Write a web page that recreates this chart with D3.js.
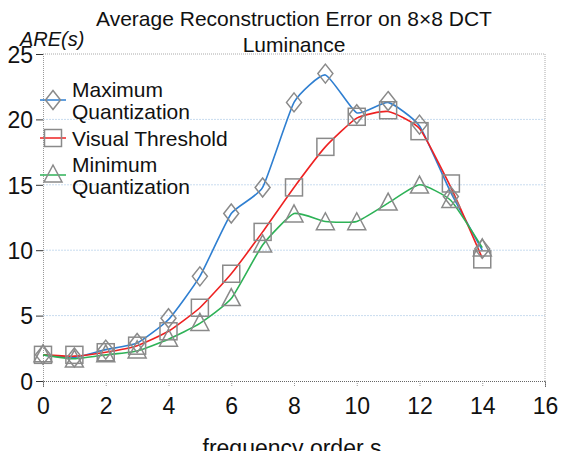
<!DOCTYPE html>
<html><head><meta charset="utf-8">
<script src="https://cdn.jsdelivr.net/npm/d3@7"></script>
<style>body{margin:0;background:#fff}svg{display:block}text{font-family:"Liberation Sans",Arial,sans-serif;fill:#111}</style>
</head><body>
<script>
const freq = [0,1,2,3,4,5,6,7,8,9,10,11,12,13,14];
const maxQ = [2.0,1.8,2.4,2.9,4.8,8.0,12.8,14.8,21.3,23.5,20.4,21.4,19.6,14.1,10.1];
const visT = [2.0,2.0,2.2,2.7,3.8,5.6,8.2,11.4,14.8,17.9,20.2,20.7,19.1,15.1,9.3];
const minQ = [2.0,1.6,2.0,2.3,3.2,4.4,6.3,10.4,12.7,12.1,12.1,13.6,14.9,13.8,10.1];
const lineMax = [2.0,1.8,2.4,2.9,4.7,8.0,12.8,14.8,21.3,23.4,20.5,21.3,19.5,14.4,10.0];
const lineVis = [2.0,1.9,2.2,2.7,3.8,5.6,8.2,11.4,14.8,17.9,20.1,20.6,19.3,14.8,9.4];
const lineMin = [2.0,1.7,2.0,2.3,3.2,4.4,6.3,10.4,12.8,12.2,12.2,13.6,15.0,13.8,10.2];
const xTicks = [0,2,4,6,8,10,12,14,16];
const yTicks = [0,5,10,15,20,25];
const seriesNames = ["Maximum|Quantization","Visual Threshold","Minimum|Quantization"];
const colors = ["#2f7fd1","#ee2222","#2eb257"];

const W=561,H=451;
const svg=d3.select("body").append("svg").attr("width",W).attr("height",H);
const x=d3.scaleLinear().domain([0,16]).range([43,545]);
const y=d3.scaleLinear().domain([0,25]).range([381,54]);

// grid
svg.append("g").selectAll("line").data([5,10,15,20]).join("line")
 .attr("x1",x(0)).attr("x2",x(16)).attr("y1",d=>y(d)).attr("y2",d=>y(d))
 .attr("stroke","#c9dcef").attr("stroke-width",1).attr("stroke-dasharray","2,1");
// frame
svg.append("line").attr("x1",x(0)).attr("x2",x(16)).attr("y1",y(25)).attr("y2",y(25)).attr("stroke","#aaa").attr("stroke-dasharray","1,1");
svg.append("line").attr("x1",x(16)).attr("x2",x(16)).attr("y1",y(25)).attr("y2",y(0)).attr("stroke","#aaa").attr("stroke-dasharray","1,1");

// axes
const yAxis=d3.axisLeft(y).tickValues(yTicks).tickSize(7).tickPadding(3);
const gy=svg.append("g").attr("transform",`translate(${x(0)},0)`).call(yAxis);
gy.select(".domain").attr("stroke","#999").attr("stroke-dasharray","1,1");
gy.selectAll(".tick line").attr("stroke","#333");
gy.selectAll(".tick text").style("font-size","23px").attr("fill","#111").attr("dy","0.36em");

const xAxis=d3.axisBottom(x).tickValues(xTicks).tickSize(6).tickPadding(11);
const gx=svg.append("g").attr("transform",`translate(0,${y(0)})`).call(xAxis);
gx.select(".domain").attr("stroke","#666").attr("stroke-dasharray","1,1");
gx.selectAll(".tick line").attr("stroke","#999").attr("stroke-dasharray","1,1");
gx.selectAll(".tick text").style("font-size","23px").attr("fill","#111");

// lines
const lineGen=d3.line().x((d,i)=>x(freq[i])).y(d=>y(d)).curve(d3.curveCardinal.tension(0.5));
[lineMax,lineVis,lineMin].forEach((s,k)=>{
  svg.append("path").datum(s).attr("d",lineGen).attr("fill","none").attr("stroke",colors[k]).attr("stroke-width",1.6);
});

const symbols=[
  (g)=>g.append("path").attr("d","M0,-9.5L7.5,0L0,9.5L-7.5,0Z"),
  (g)=>g.append("rect").attr("x",-8.5).attr("y",-8.5).attr("width",17).attr("height",17),
  (g)=>g.append("path").attr("d","M0,-10L9,7L-9,7Z")
];
[maxQ,visT,minQ].forEach((s,k)=>{
  s.forEach((v,i)=>{
    const g=svg.append("g").attr("transform",`translate(${x(freq[i])},${y(v)})`);
    symbols[k](g).attr("fill","none").attr("stroke","#8a8a8a").attr("stroke-width",1.5);
  });
});

// legend
const legY=[100,138,175];
seriesNames.forEach((n,k)=>{
  svg.append("line").attr("x1",40).attr("x2",66).attr("y1",legY[k]).attr("y2",legY[k]).attr("stroke",colors[k]).attr("stroke-width",1.5);
  const g=svg.append("g").attr("transform",`translate(53,${legY[k]})`);
  symbols[k](g).attr("fill","none").attr("stroke","#8a8a8a").attr("stroke-width",1.5);
  const parts=n.split("|");
  const t=svg.append("text").attr("x",72).style("font-size","21px");
  if(parts.length===2){
    t.append("tspan").attr("x",72).attr("y",legY[k]-3).text(parts[0]);
    t.append("tspan").attr("x",72).attr("y",legY[k]+19).text(parts[1]);
  } else {
    t.attr("y",legY[k]+8).text(parts[0]);
  }
});

// titles
svg.append("text").attr("x",294).attr("y",26).attr("text-anchor","middle").style("font-size","21px").text("Average Reconstruction Error on 8×8 DCT");
svg.append("text").attr("x",294).attr("y",52).attr("text-anchor","middle").style("font-size","21px").text("Luminance");
svg.append("text").attr("x",20).attr("y",46).style("font-size","20px").style("font-style","italic").text("ARE(s)");
svg.append("text").attr("x",292).attr("y",456).attr("text-anchor","middle").style("font-size","23px").text("frequency order s");
</script>
</body></html>
